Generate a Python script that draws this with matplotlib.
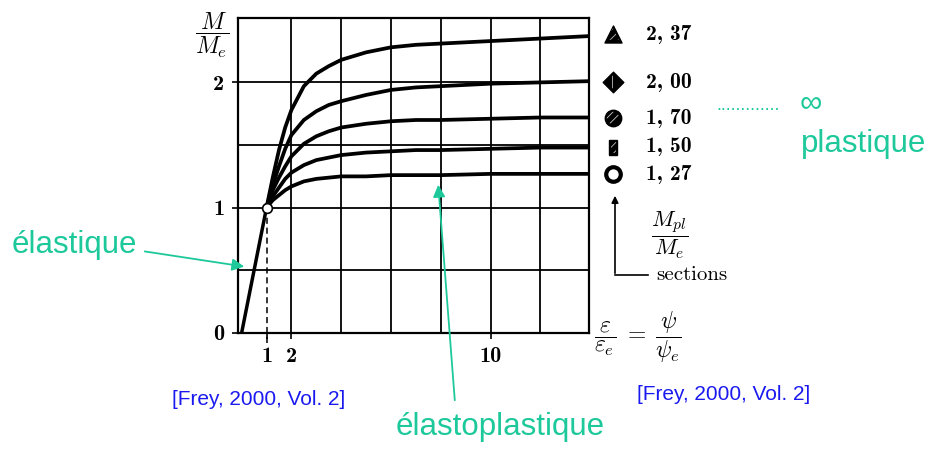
import matplotlib
matplotlib.use("Agg")
import matplotlib.pyplot as plt
from matplotlib.font_manager import FontProperties
import os

plt.rcParams['mathtext.fontset'] = 'cm'
plt.rcParams['hatch.linewidth'] = 0.6

# data
eps_ratio = [1, 1.25, 1.5, 1.75, 2, 2.5, 3, 3.5, 4, 5, 6, 7, 8, 10, 12, 14]
m_237 = [1.0, 1.24, 1.46, 1.64, 1.78, 1.97, 2.07, 2.13, 2.18, 2.24, 2.28, 2.30, 2.31, 2.33, 2.35, 2.37]
m_200 = [1.0, 1.18, 1.33, 1.47, 1.58, 1.70, 1.77, 1.82, 1.85, 1.90, 1.94, 1.96, 1.97, 1.99, 2.00, 2.01]
m_170 = [1.0, 1.14, 1.24, 1.33, 1.41, 1.51, 1.57, 1.61, 1.64, 1.67, 1.69, 1.70, 1.70, 1.71, 1.72, 1.72]
m_150 = [1.0, 1.09, 1.16, 1.23, 1.28, 1.34, 1.38, 1.40, 1.42, 1.44, 1.45, 1.46, 1.46, 1.47, 1.48, 1.48]
m_127 = [1.0, 1.06, 1.10, 1.14, 1.17, 1.21, 1.23, 1.24, 1.25, 1.25, 1.26, 1.26, 1.26, 1.27, 1.27, 1.27]
curves = [m_237, m_200, m_170, m_150, m_127]
elastic_x = [0, 1]
elastic_y = [0, 1]
ratios = ['2, 37', '2, 00', '1, 70', '1, 50', '1, 27']
x_ticks = [1, 2, 10]
y_ticks = [0, 1, 2]
x_grid = [2, 4, 6, 8, 10, 12]
y_grid = [0.5, 1, 1.5, 2]

green = '#1dc99b'
blue = '#1a1af0'
sans = ['Liberation Sans', 'DejaVu Sans']

ttf_dir = os.path.join(matplotlib.get_data_path(), 'fonts', 'ttf')
cm_bold = FontProperties(fname=os.path.join(ttf_dir, 'cmb10.ttf'), size=16)
cm_bold_leg = FontProperties(fname=os.path.join(ttf_dir, 'cmb10.ttf'), size=15.5)
cm_roman = FontProperties(fname=os.path.join(ttf_dir, 'cmr10.ttf'), size=15)

fig = plt.figure(figsize=(9.32, 4.49), dpi=100)
ax = fig.add_axes([238 / 932, 1 - 333 / 449, 351 / 932, 315 / 449])
ax.set_xlim(-0.145, 13.95)
ax.set_ylim(0, 2.514)

for gx in x_grid:
    ax.axvline(gx, color='black', lw=1.3, zorder=1)
for gy in y_grid:
    ax.axhline(gy, color='black', lw=1.3, zorder=1)
ax.set_xticks(x_ticks)
ax.set_xticklabels([str(v) for v in x_ticks], fontproperties=cm_bold)
ax.set_yticks(y_ticks)
ax.set_yticklabels([str(v) for v in y_ticks], fontproperties=cm_bold)
ax.tick_params(direction='out', length=4, width=1.2, pad=6)
for s in ax.spines.values():
    s.set_linewidth(1.6)

for ys in curves:
    ax.plot(eps_ratio, ys, color='black', lw=2.7, solid_capstyle='butt', zorder=3)
ax.plot(elastic_x, elastic_y, color='black', lw=2.5, zorder=3)
ax.plot([1, 1], [-0.08, 1], color='black', lw=1.1, ls=(0, (4, 2.5)), clip_on=False, zorder=2)
ax.plot([1], [1], 'o', ms=7, mfc='white', mec='black', mew=1.2, zorder=5)

# overlay in pixel coordinates for the annotations
ov = fig.add_axes([0, 0, 1, 1])
ov.set_xlim(0, 932)
ov.set_ylim(449, 0)
ov.axis('off')
ov.patch.set_alpha(0)

ov.text(212, 35, r'$\dfrac{M}{M_e}$', fontsize=17, ha='center', va='center')
ov.text(638, 337, r'$\dfrac{\varepsilon}{\varepsilon_e} \;=\; \dfrac{\psi}{\psi_e}$',
        fontsize=17, ha='center', va='center')
ov.text(670, 235, r'$\dfrac{M_{pl}}{M_e}$', fontsize=16, ha='center', va='center')

# section symbols
leg_y = [34, 82, 118, 147, 174]
ov.scatter([613], [leg_y[0]], marker='^', s=150, color='black')
ov.scatter([613], [leg_y[0]], marker='^', s=70, facecolor='none', edgecolor='#bbbbbb', hatch='////', lw=0)
ov.scatter([613], [leg_y[1]], marker='D', s=110, color='black')
ov.scatter([613], [leg_y[1]], marker='D', s=45, facecolor='none', edgecolor='#bbbbbb', hatch='||', lw=0)
ov.scatter([613], [leg_y[2]], marker='o', s=140, color='black')
ov.scatter([613], [leg_y[2]], marker='o', s=80, facecolor='none', edgecolor='#cccccc', hatch='////', lw=0)
ov.add_patch(plt.Rectangle((609, 140), 8, 15, color='black'))
ov.add_patch(plt.Rectangle((610.5, 142), 5, 11, facecolor='none', edgecolor='#bbbbbb', hatch='////', lw=0))
ov.scatter([613], [leg_y[4]], marker='o', s=110, facecolor='white', edgecolor='black', lw=3)
for yy, lab in zip(leg_y, ratios):
    ov.text(646, yy, lab, fontproperties=cm_bold_leg, ha='left', va='center')

ov.annotate('', xy=(615, 193), xytext=(615, 276),
            arrowprops=dict(arrowstyle='-|>', color='black', lw=1.2, mutation_scale=10))
ov.plot([615, 648], [275, 275], color='black', lw=1.2)
ov.text(656, 275, 'sections', fontproperties=cm_roman, ha='left', va='center')

# green notes
ov.text(12, 253, 'élastique', fontsize=22.5, color=green, family=sans, ha='left', va='baseline')
ov.annotate('', xy=(247, 267), xytext=(142, 251),
            arrowprops=dict(arrowstyle='-|>', color=green, lw=1.3, mutation_scale=18))
ov.text(396, 435, 'élastoplastique', fontsize=22.5, color=green, family=sans, ha='left', va='baseline')
ov.annotate('', xy=(438, 182), xytext=(455, 403),
            arrowprops=dict(arrowstyle='-|>', color=green, lw=1.3, mutation_scale=18))
ov.text(716, 110, '.' * 13, fontsize=13, color=green, family=sans, ha='left', va='baseline')
ov.text(800, 111, '∞', fontsize=22.5, color=green, family=sans, ha='left', va='baseline')
ov.text(801, 152, 'plastique', fontsize=22.5, color=green, family=sans, ha='left', va='baseline')

ov.text(172, 405, '[Frey, 2000, Vol. 2]', fontsize=15, color=blue, family=sans, ha='left', va='baseline')
ov.text(637, 400, '[Frey, 2000, Vol. 2]', fontsize=15, color=blue, family=sans, ha='left', va='baseline')

fig.savefig('out.png', dpi=100)
